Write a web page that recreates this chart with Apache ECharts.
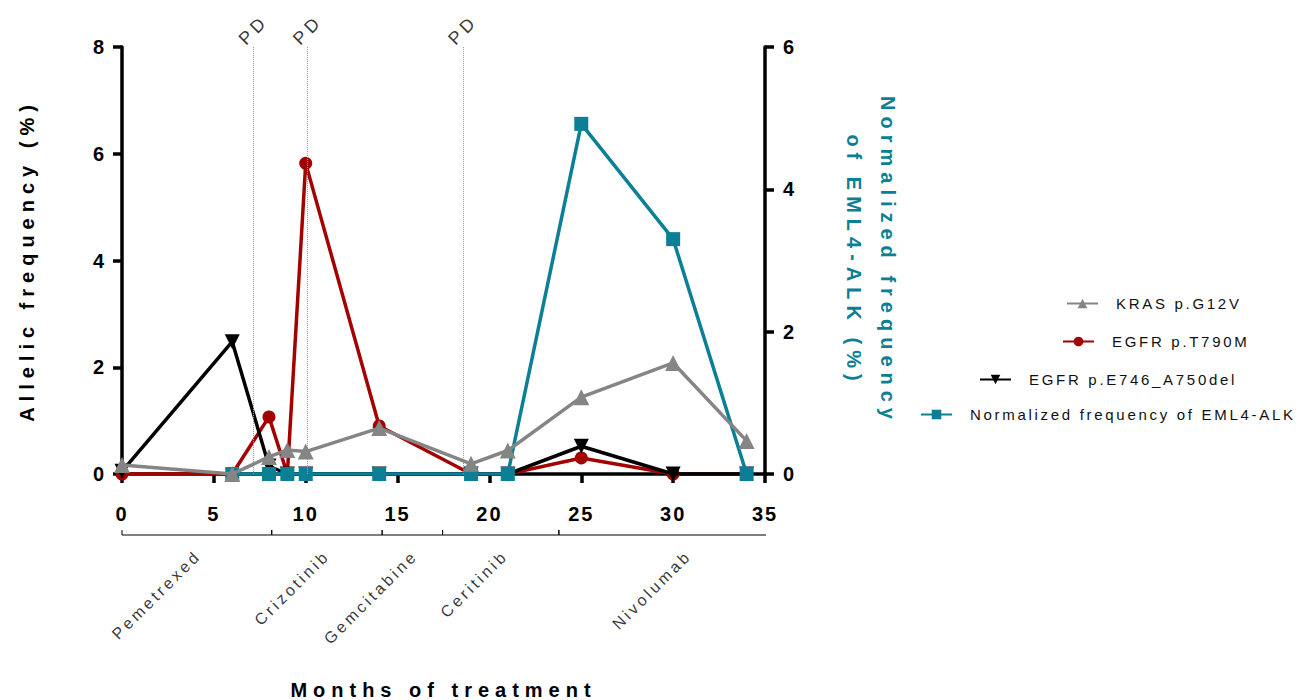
<!DOCTYPE html>
<html><head><meta charset="utf-8">
<script src="https://cdn.jsdelivr.net/npm/echarts@6/dist/echarts.min.js"></script>
<style>html,body{margin:0;padding:0;background:#fff}#c{width:1306px;height:700px}</style>
</head><body><div id="c"></div>
<script>
// ---- data ----
const months = [0, 6, 8, 9, 10, 14, 19, 21, 25, 30, 34];
const krasG12V = [0.17, 0.0, 0.32, 0.45, 0.42, 0.86, 0.19, 0.44, 1.44, 2.08, 0.62];
const egfrT790M = [0, 0, 1.07, 0, 5.82, 0.9, 0, 0, 0.3, 0, 0];
const egfrE746 = [0.05, 2.48, 0.15, 0, 0, 0, 0, 0, 0.52, 0, 0];
const eml4Alk = [null, 0, 0, 0, 0, 0, 0, 0, 4.92, 3.30, 0];
const pdMonths = [7.15, 10.1, 18.55];
const treatments = ['Pemetrexed', 'Crizotinib', 'Gemcitabine', 'Ceritinib', 'Nivolumab'];
const treatmentBounds = [0, 8.15, 14.16, 17.45, 23.78, 36.2];
const treatmentLabelAt = [4.15, 11.15, 15.95, 20.85, 30.85];
const seriesNames = ['KRAS p.G12V', 'EGFR p.T790M', 'EGFR p.E746_A750del', 'Normalized frequency of EML4-ALK'];

const FONT = 'Liberation Sans, Arial, sans-serif';
const GREY = '#858585', RED = '#a50000', BLACK = '#000000', TEAL = '#0b7f95';

function pairs(ys) { return months.map((m, i) => ys[i] == null ? null : [m, ys[i]]).filter(d => d); }

// bracket polyline built from treatment bounds
const bracket = [];
treatmentBounds.forEach((b, i) => {
  if (i === 0) { bracket.push([b, 1], [b, 0]); }
  else if (i === treatmentBounds.length - 1) { bracket.push([b, 0], [b, 1]); }
  else { bracket.push([b, 0], [b, 1], [b, 0]); }
});
const treatmentLabels = treatments.map((t, i) => ({ value: [treatmentLabelAt[i], 0], name: t }));

const axisCommon = {
  axisLine: { show: true, lineStyle: { color: '#000', width: 3.5 } },
  axisTick: { show: true, length: 9, lineStyle: { color: '#000', width: 3.5 } },
  axisLabel: { color: '#000', fontSize: 20, fontWeight: 'bold', fontFamily: FONT },
  splitLine: { show: false }
};

function legendFor(name, left, top) {
  return {
    data: [name], left: left, top: top, orient: 'vertical', itemWidth: 31, itemHeight: 12, padding: 0,
    textStyle: { fontSize: 15, color: '#111', fontFamily: FONT, padding: [0, 0, 0, 13] },
    selectedMode: false
  };
}

const chart = echarts.init(document.getElementById('c'), null, { renderer: 'svg' });
chart.setOption({
  animation: false,
  backgroundColor: '#fff',
  grid: [
    { left: 122, right: 541, top: 47, bottom: 226, outerBoundsMode: 'none', containLabel: false },
    { left: 122, right: 541, top: 530, height: 5, outerBoundsMode: 'none', containLabel: false }
  ],
  legend: [
    legendFor(seriesNames[0], 1066, 296),
    legendFor(seriesNames[1], 1062, 334),
    legendFor(seriesNames[2], 979, 372),
    legendFor(seriesNames[3], 920, 407)
  ],
  xAxis: [
    Object.assign({}, axisCommon, {
      type: 'value', gridIndex: 0, min: 0, max: 35, interval: 5, position: 'bottom',
      axisLabel: Object.assign({}, axisCommon.axisLabel, { margin: 30 }),
      name: 'Months of treatment', nameLocation: 'middle', nameGap: 206,
      nameTextStyle: { fontSize: 20, fontWeight: 'bold', color: '#000', fontFamily: FONT }
    }),
    { type: 'value', gridIndex: 1, min: 0, max: 35, show: false }
  ],
  yAxis: [
    Object.assign({}, axisCommon, {
      type: 'value', gridIndex: 0, min: 0, max: 8, interval: 2, position: 'left',
      axisLabel: Object.assign({}, axisCommon.axisLabel, { margin: 16 }),
      name: 'Allelic frequency (%)', nameLocation: 'middle', nameGap: 85, nameRotate: 90,
      nameTextStyle: { fontSize: 20, fontWeight: 'bold', color: '#000', fontFamily: FONT }
    }),
    Object.assign({}, axisCommon, {
      type: 'value', gridIndex: 0, min: 0, max: 6, interval: 2, position: 'right',
      axisLabel: Object.assign({}, axisCommon.axisLabel, { margin: 18 }),
      name: 'Normalized frequency\nof EML4-ALK (%)', nameLocation: 'middle', nameGap: 72, nameRotate: -90,
      nameTextStyle: { fontSize: 20, fontWeight: 'bold', color: TEAL, fontFamily: FONT, lineHeight: 34 }
    }),
    { type: 'value', gridIndex: 1, min: 0, max: 1, show: false }
  ],
  series: [
    {
      name: seriesNames[1], type: 'line', data: pairs(egfrT790M), xAxisIndex: 0, yAxisIndex: 0,
      symbol: 'circle', symbolSize: 13, color: RED, lineStyle: { width: 3.5, color: RED },
      itemStyle: { color: RED }, z: 2
    },
    {
      name: seriesNames[2], type: 'line', data: pairs(egfrE746), xAxisIndex: 0, yAxisIndex: 0,
      symbol: 'triangle', symbolRotate: 180, symbolSize: 15, color: BLACK, lineStyle: { width: 3.5, color: BLACK },
      itemStyle: { color: BLACK }, z: 3
    },
    {
      name: seriesNames[3], type: 'line', data: pairs(eml4Alk), xAxisIndex: 0, yAxisIndex: 1,
      symbol: 'rect', symbolSize: 14, color: TEAL, lineStyle: { width: 3.5, color: TEAL },
      itemStyle: { color: TEAL }, z: 4
    },
    {
      name: seriesNames[0], type: 'line', data: pairs(krasG12V), xAxisIndex: 0, yAxisIndex: 0,
      symbol: 'triangle', symbolSize: 16, color: GREY, lineStyle: { width: 3.5, color: GREY },
      itemStyle: { color: GREY }, z: 5
    },
    {
      name: 'PD', type: 'scatter', xAxisIndex: 0, yAxisIndex: 0, symbolSize: 0, silent: true, clip: false,
      data: pdMonths.map(m => [m, 8]),
      label: {
        show: true, formatter: 'PD', position: 'inside', rotate: 45, offset: [12, -12],
        fontSize: 18, color: '#000', fontFamily: FONT
      },
      markLine: {
        silent: true, symbol: ['none', 'none'], label: { show: false },
        lineStyle: { type: 'dotted', color: '#9a9a9a', width: 1 },
        data: pdMonths.map(m => ({ xAxis: m }))
      },
      z: 1
    },
    {
      name: 'bracket', type: 'line', xAxisIndex: 1, yAxisIndex: 2, data: bracket, symbol: 'none', clip: false,
      silent: true, lineStyle: { color: '#000', width: 1 }, itemStyle: { color: '#000' }
    },
    {
      name: 'treatments', type: 'scatter', xAxisIndex: 1, yAxisIndex: 2, data: treatmentLabels, symbolSize: 0,
      clip: false, silent: true,
      label: {
        show: true, formatter: p => p.name, position: 'inside', rotate: 45, align: 'right', verticalAlign: 'middle',
        offset: [-12.7, 12.7], fontSize: 16, color: '#000', fontFamily: FONT
      }
    }
  ]
});

const spacingMap = {
  'Months of treatment': 6, 'Allelic frequency (%)': 6, 'Normalized frequency': 6, 'of EML4-ALK (%)': 6,
  'KRAS p.G12V': 2.7, 'EGFR p.T790M': 2.7, 'EGFR p.E746_A750del': 2.7, 'Normalized frequency of EML4-ALK': 2.7,
  'PD': 4
};
treatments.forEach(t => spacingMap[t] = 3.2);
function applySpacing() {
  document.querySelectorAll('#c text').forEach(t => {
    const s = t.textContent.trim();
    let ls = spacingMap[s];
    if (ls == null) ls = /^\d+$/.test(s) ? 2 : 0;
    t.style.letterSpacing = ls + 'px';
  });
}
chart.on('finished', applySpacing);
applySpacing();
setTimeout(applySpacing, 30);
</script>
</body></html>
